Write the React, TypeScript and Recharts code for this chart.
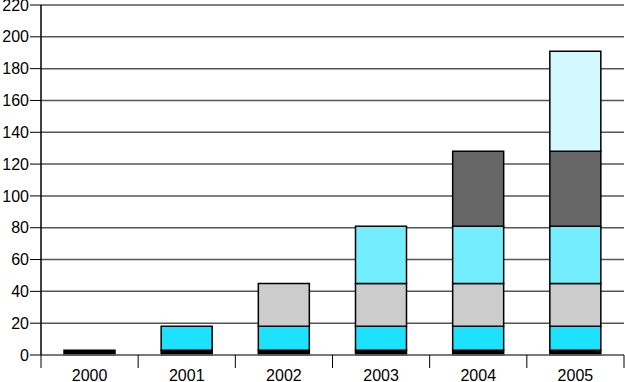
import React from "react";
import { BarChart, Bar, XAxis, YAxis, CartesianGrid } from "recharts";

const years = ["2000", "2001", "2002", "2003", "2004", "2005"];
const layerA = [3, 3, 3, 3, 3, 3];
const layerB = [0, 15, 15, 15, 15, 15];
const layerC = [0, 0, 27, 27, 27, 27];
const layerD = [0, 0, 0, 36, 36, 36];
const layerE = [0, 0, 0, 0, 47, 47];
const layerF = [0, 0, 0, 0, 0, 63];
const yTicks = [0, 20, 40, 60, 80, 100, 120, 140, 160, 180, 200, 220];

const layers = [
  { key: "a", values: layerA, fill: "#000000" },
  { key: "b", values: layerB, fill: "#1ce2ff" },
  { key: "c", values: layerC, fill: "#cccccc" },
  { key: "d", values: layerD, fill: "#74eeff" },
  { key: "e", values: layerE, fill: "#666666" },
  { key: "f", values: layerF, fill: "#d3f9ff" },
];

const data = years.map((year, i) => {
  const row: Record<string, any> = { year };
  layers.forEach(l => {
    row[l.key] = l.values[i] || null;
  });
  return row;
});

const FONT = "'Liberation Sans', Arial, sans-serif";
const BAND = 583 / years.length;

// category ticks sit between the bars, labels centred under them
const YearTick = (props: any) => {
  const { x, y, payload, index } = props;
  const left = x - BAND / 2;
  return (
    <g>
      <line x1={left} y1={y} x2={left} y2={y + 13} stroke="#000" strokeWidth={1} />
      {index === years.length - 1 && (
        <line x1={x + BAND / 2} y1={y} x2={x + BAND / 2} y2={y + 13} stroke="#000" strokeWidth={1} />
      )}
      <text x={x} y={y + 26} textAnchor="middle" fill="#000" fontSize={16} fontFamily={FONT}>
        {payload.value}
      </text>
    </g>
  );
};

export default function App() {
  return (
    <div style={{ position: "fixed", left: 0, top: 0, width: 625, height: 382, background: "#fff" }}>
      <BarChart
        width={625}
        height={382}
        data={data}
        margin={{ top: 5, right: 1, bottom: 0, left: 0 }}
        barSize={51}
      >
        <CartesianGrid horizontal={true} vertical={false} stroke="#555" strokeWidth={1.5} />
        <XAxis
          dataKey="year"
          tick={<YearTick />}
          tickLine={false}
          tickSize={0}
          tickMargin={0}
          axisLine={{ stroke: "#777", strokeWidth: 1.5 }}
          height={27}
          interval={0}
        />
        <YAxis
          domain={[0, 220]}
          ticks={yTicks}
          width={41}
          tickSize={11}
          tickMargin={1}
          axisLine={{ stroke: "#000", strokeWidth: 1.5 }}
          tickLine={{ stroke: "#000", strokeWidth: 1 }}
          tick={{ fill: "#000", fontSize: 16, fontFamily: FONT }}
          interval={0}
        />
        <YAxis
          yAxisId="border"
          orientation="right"
          width={0}
          tick={false}
          tickLine={false}
          axisLine={{ stroke: "#000", strokeWidth: 2 }}
        />
        <XAxis
          xAxisId="top"
          orientation="top"
          height={0}
          tick={false}
          tickLine={false}
          axisLine={{ stroke: "#000", strokeWidth: 2 }}
        />
        {layers.map(l => (
          <Bar
            key={l.key}
            dataKey={l.key}
            stackId="s"
            fill={l.fill}
            stroke="#000"
            strokeWidth={1.5}
            isAnimationActive={false}
          />
        ))}
      </BarChart>
    </div>
  );
}
